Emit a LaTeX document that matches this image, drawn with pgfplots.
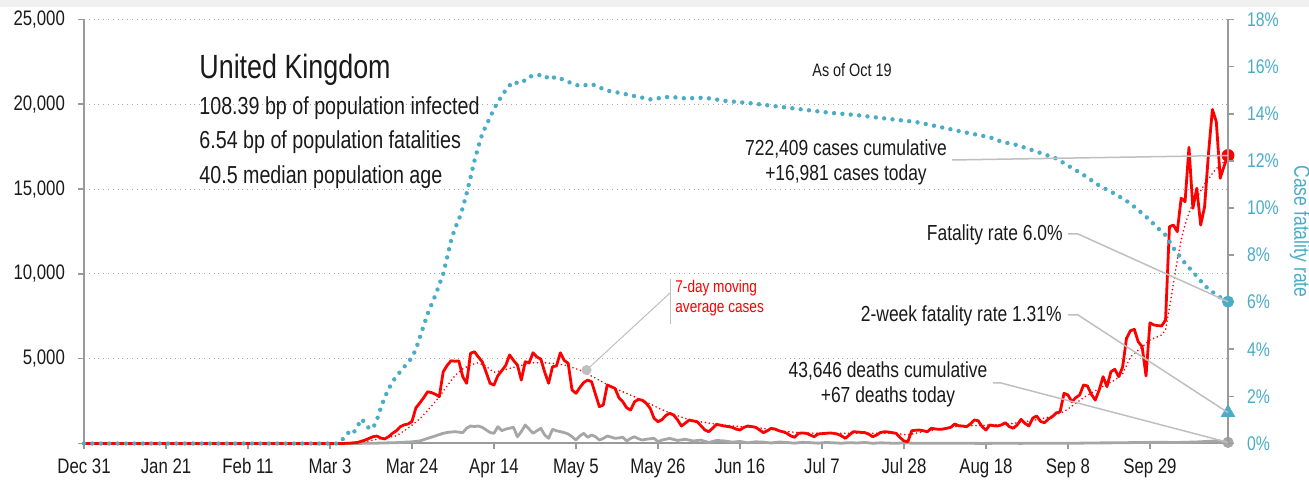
\documentclass[border=0pt]{standalone}
\usepackage{pgfplots}
\pgfplotsset{compat=1.18}
\usepackage{fontspec}
\setmainfont{Liberation Sans}[FakeStretch=0.8]

\definecolor{cfrblue}{HTML}{4BACC6}
\definecolor{casered}{HTML}{FF0000}
\definecolor{deathgray}{HTML}{A6A6A6}
\definecolor{axisgray}{HTML}{9A9A9A}
\definecolor{leadgray}{HTML}{BFBFBF}
\definecolor{txt}{HTML}{1A1A1A}

% both axes share the same box: 1 px of the reference = 0.5pt
\pgfplotsset{ukbase/.style={
    width=572pt, height=212pt, scale only axis,
    xmin=0, xmax=293,
    clip=false,
    axis line style={-, axisgray, line width=1pt},
    tick style={axisgray, line width=0.8pt},
    tick align=outside,
    major tick length=3pt,
}}
\newcommand\ylab[1]{\mbox{\fontsize{10.5pt}{12pt}\selectfont #1}}

\begin{document}
\begin{tikzpicture}
\path[use as bounding box] (-42pt,-18.25pt) rectangle (612.5pt,221.75pt);
\fill[black!6] (-42pt,221.75pt) rectangle (612.5pt,218.25pt);

% ---- left axis: daily cases and deaths
\begin{axis}[ukbase,
    ymin=0, ymax=25000,
    scaled y ticks=false,
    axis x line*=bottom, axis y line*=left,
    xtick={0,21,...,273},
    xticklabels={Dec 31,Jan 21,Feb 11,Mar 3,Mar 24,Apr 14,May 5,May 26,Jun 16,Jul 7,Jul 28,Aug 18,Sep 8,Sep 29},
    ytick={0,5000,...,25000},
    yticklabels={,\ylab{5,000},\ylab{10,000},\ylab{15,000},\ylab{20,000},\ylab{25,000}},
    ymajorgrids,
    grid style={dotted, black!35, line width=0.5pt},
    ticklabel style={font=\fontsize{10.5pt}{12pt}\selectfont, text=txt},
    yticklabel style={xshift=-3pt},
    xticklabel style={yshift=-1pt},
]
% daily deaths
\addplot[deathgray, line width=1.4pt, line join=round] coordinates {
(0,0) (63,0) (70,5) (75,20) (80,50) (84,100) (86,150) (88,300) (90,450) (92,600)
(93,650) (95,700) (97,640) (98,900) (99,1030) (100,1000) (101,1030) (102,955) (103,800)
(104,650) (105,600) (106,990) (107,755) (108,850) (109,900) (110,955) (111,400) (112,700)
(113,1090) (114,850) (115,600) (116,750) (117,895) (118,500) (119,305) (120,835) (121,750)
(122,700) (123,640) (124,560) (125,400) (126,205) (127,450) (128,600) (129,365) (130,500)
(131,400) (132,205) (133,300) (134,440) (135,380) (136,305) (137,330) (138,365) (139,150)
(140,300) (141,400) (142,280) (143,205) (144,250) (145,280) (146,305) (147,105) (148,200)
(150,300) (152,180) (154,250) (156,150) (158,200) (160,60) (162,180) (164,150) (166,80)
(168,120) (170,40) (172,100) (174,80) (176,30) (178,90) (180,60) (182,20) (184,70)
(186,50) (188,20) (190,60) (192,40) (194,15) (196,50) (198,30) (200,60) (202,10)
(204,40) (206,25) (208,10) (210,40) (212,20) (216,15) (220,10) (225,15) (230,5)
(235,12) (240,8) (245,15) (250,10) (255,20) (260,35) (265,40) (270,60) (275,70)
(280,60) (285,90) (288,130) (290,150) (292,100) (293,67)
};
% daily cases
\addplot[casered, line width=1.4pt, line join=round] coordinates {
(0,0) (63,0) (66,0) (68,20) (70,60) (72,200) (74,400) (75,440) (76,320) (77,270)
(78,400) (79,600) (80,750) (81,990) (82,1100) (83,1150) (84,1300) (85,2100) (86,2390)
(87,2700) (88,3050) (89,3000) (90,2900) (91,2760) (92,4230) (93,4600) (94,4880) (95,4850)
(96,4870) (97,3940) (98,3550) (99,5320) (100,5410) (101,5100) (102,4820) (103,4200)
(104,3550) (105,3450) (106,4000) (107,4300) (108,4600) (109,5220) (110,4900) (111,4630)
(112,3740) (113,4820) (114,4760) (115,5350) (116,5100) (117,4980) (118,4200) (119,3550)
(120,4530) (121,4570) (122,5350) (123,4900) (124,4730) (125,3150) (126,2960) (127,3300)
(128,3600) (129,3740) (130,3640) (131,2900) (132,2170) (133,2270) (134,3450) (135,3350)
(136,3250) (137,2700) (138,2460) (139,2100) (140,1975) (141,2460) (142,2600) (143,2550)
(144,2370) (145,2075) (146,1490) (147,1285) (148,1400) (149,1650) (150,1780) (151,1680)
(152,1400) (153,1030) (154,1200) (155,1385) (156,1330) (157,1285) (158,1050) (159,800)
(160,695) (161,900) (162,1130) (163,1080) (164,1030) (165,1000) (166,950) (167,850)
(168,795) (169,950) (170,1030) (171,1000) (172,955) (173,800) (174,640) (175,750)
(176,895) (177,850) (178,750) (179,695) (180,600) (181,450) (182,365) (183,600)
(184,620) (185,600) (186,500) (187,400) (188,560) (189,580) (190,600) (191,620)
(192,600) (193,550) (194,450) (195,305) (196,500) (197,695) (198,680) (199,660)
(200,640) (201,550) (202,400) (203,500) (204,650) (205,695) (206,680) (207,640)
(208,600) (209,350) (210,150) (211,105) (212,755) (213,780) (214,795) (215,750)
(216,695) (217,895) (218,860) (219,835) (220,850) (221,900) (222,955) (223,1150)
(224,1050) (225,1030) (226,990) (227,1150) (228,1385) (229,1345) (230,1000) (231,795)
(232,1090) (233,1050) (234,1030) (235,1100) (236,1225) (237,990) (238,900) (239,1090)
(240,1425) (241,1190) (242,1030) (243,1500) (244,1620) (245,1300) (246,1225) (247,1450)
(248,1580) (249,1800) (250,1875) (251,2960) (252,2860) (253,2460) (254,2700) (255,2860)
(256,3450) (257,3390) (258,2900) (259,2560) (260,3150) (261,3940) (262,3350) (263,4230)
(264,4375) (265,3940) (266,4500) (267,6200) (268,6650) (269,6730) (270,6000) (271,5710)
(272,3980) (273,7120) (274,6990) (275,6950) (276,6930) (277,7280) (278,12780) (279,12880)
(280,12490) (281,14460) (282,14260) (283,17460) (284,13870) (285,15050) (286,12880)
(287,13960) (288,17110) (289,19700) (290,18970) (291,15640) (292,16360) (293,16981)
};
% 7-day moving average of cases
\addplot[casered, line width=0.9pt, line cap=round, dash pattern=on 0pt off 2pt] coordinates {
(0,0) (63,0) (66,20) (70,60) (73,150) (76,300) (80,450) (83,900) (86,1450) (89,2200)
(91,2760) (93,3400) (95,4000) (97,4400) (99,4630) (101,4760) (103,4550) (105,4200)
(107,4300) (109,4430) (112,4600) (115,4760) (118,4760) (121,4700) (123,4630) (127,4330)
(131,3850) (135,3350) (140,2850) (144,2460) (147,2100) (150,1800) (155,1400) (160,1200)
(164,1080) (168,1000) (172,950) (176,820) (180,700) (185,620) (189,600) (197,600)
(206,600) (209,560) (211,500) (213,600) (215,700) (219,850) (223,990) (228,1060)
(232,1090) (236,1130) (240,1250) (244,1400) (247,1550) (251,1875) (256,2700) (260,3250)
(264,3740) (266,4100) (268,5100) (270,5500) (273,6100) (276,6400) (277,6700) (278,8000)
(279,9400) (280,10800) (281,12000) (282,12900) (283,13600) (284,14160) (285,14500)
(286,14900) (287,15300) (288,15600) (289,15930) (290,16200) (291,16450) (292,16600) (293,16800)
};
% end-point and annotation markers
\addplot[only marks, mark=*, mark size=2.3pt, leadgray] coordinates {(128.7,4330)};
\addplot[only marks, mark=*, mark size=2.6pt, deathgray] coordinates {(293,67)};
\addplot[only marks, mark=*, mark size=3pt, casered] coordinates {(293,16981)};
\coordinate (pc) at (axis cs:293,16981);
\coordinate (pd) at (axis cs:293,67);
\coordinate (pa) at (axis cs:128.7,4330);
\end{axis}

% ---- right axis: case fatality rate
\begin{axis}[ukbase,
    ymin=0, ymax=18,
    axis x line=none, axis y line*=right,
    ytick={0,2,...,18},
    yticklabels={0\%,2\%,4\%,6\%,8\%,10\%,12\%,14\%,16\%,18\%},
    yticklabel style={font=\fontsize{9.9pt}{12pt}\selectfont, text=cfrblue, xshift=3pt},
    ylabel={Case fatality rate},
    every axis y label/.style={at={(rel axis cs:1.063,0.5)}, anchor=center, rotate=-90,
        font=\fontsize{11pt}{13pt}\selectfont, text=cfrblue},
]
\addplot[cfrblue, line width=2.2pt, line cap=round, dash pattern=on 0pt off 4.2pt] coordinates {
(0,0) (65,0) (67,0.29) (68,0.53) (69,0.45) (70,0.71) (71,1.04) (72,0.88) (73,0.64)
(74,0.64) (75,1.0) (76,1.5) (77,1.95) (78,2.3) (79,2.62) (80,2.85) (81,3.05) (82,3.25)
(83,3.45) (84,3.65) (85,4.0) (86,4.5) (87,5.0) (88,5.5) (89,5.9) (90,6.3) (91,6.75)
(92,7.2) (93,7.9) (94,8.6) (95,9.13) (96,9.5) (97,10.0) (98,10.62) (99,11.3) (100,12.0)
(101,12.6) (102,13.15) (103,13.5) (104,13.85) (105,14.2) (106,14.5) (107,14.75)
(108,15.0) (109,15.2) (110,15.36) (111,15.3) (112,15.3) (114,15.57) (116,15.64)
(118,15.64) (119,15.46) (121,15.57) (124,15.35) (127,15.17) (130,15.26) (134,14.98)
(137,14.89) (141,14.75) (145,14.61) (150,14.72) (154,14.65) (159,14.68) (164,14.55)
(171,14.44) (178,14.3) (185,14.16) (191,14.04) (198,13.94) (205,13.8) (213,13.65)
(218,13.48) (225,13.23) (232,13.0) (235,12.81) (239,12.67) (244,12.39) (249,12.1)
(252,11.8) (256,11.4) (260,10.95) (264,10.6) (267,10.3) (269,10.05) (272,9.63)
(276,8.99) (277,8.85) (279,8.3) (282,7.65) (285,7.1) (287,6.7) (290,6.3) (293,6.02)
};
\addplot[only marks, mark=*, mark size=2.8pt, cfrblue] coordinates {(293,6.02)};
\addplot[only marks, mark=triangle*, mark size=3.8pt, cfrblue] coordinates {(293,1.31)};
\coordinate (pf) at (axis cs:293,6.02);
\coordinate (pt) at (axis cs:293,1.31);
\end{axis}

% ---- annotations, placed in reference pixels
\begin{scope}[x=0.5pt, y=-0.5pt, shift={(-42pt,221.75pt)}]
\draw[leadgray, line width=0.75pt] (952,160) -- (pc);
\draw[leadgray, line width=0.75pt] (1068,234) -- (1078,234) -- (pf);
\draw[leadgray, line width=0.75pt] (1068,315) -- (1078,315) -- (pt);
\draw[leadgray, line width=0.75pt] (993,383) -- (1001,383) -- (pd);
\draw[leadgray, line width=0.5pt] (670,279) -- (670,324);
\draw[leadgray, line width=0.5pt] (670,293) -- (pa);

\node[anchor=base west, inner sep=0, text=txt, font=\fontsize{16.8pt}{19pt}\selectfont] at (199,78.3) {United Kingdom};
\node[anchor=base west, inner sep=0, text=txt, font=\fontsize{12.3pt}{14pt}\selectfont] at (199,115) {108.39 bp of population infected};
\node[anchor=base west, inner sep=0, text=txt, font=\fontsize{12.3pt}{14pt}\selectfont] at (199,149) {6.54 bp of population fatalities};
\node[anchor=base west, inner sep=0, text=txt, font=\fontsize{12.3pt}{14pt}\selectfont] at (199,184) {40.5 median population age};
\node[anchor=base, inner sep=0, text=txt, font=\fontsize{9pt}{11pt}\selectfont] at (852,77) {As of Oct 19};

\node[anchor=base, inner sep=0, text=txt, font=\fontsize{10.9pt}{13pt}\selectfont] at (846,156) {722,409 cases cumulative};
\node[anchor=base, inner sep=0, text=txt, font=\fontsize{10.9pt}{13pt}\selectfont] at (846,181) {+16,981 cases today};
\node[anchor=base east, inner sep=0, text=txt, font=\fontsize{10.9pt}{13pt}\selectfont] at (1063,241) {Fatality rate 6.0\%};
\node[anchor=base east, inner sep=0, text=txt, font=\fontsize{10.9pt}{13pt}\selectfont] at (1062,321.7) {2-week fatality rate 1.31\%};
\node[anchor=base, inner sep=0, text=txt, font=\fontsize{10.9pt}{13pt}\selectfont] at (888,377.7) {43,646 deaths cumulative};
\node[anchor=base, inner sep=0, text=txt, font=\fontsize{10.9pt}{13pt}\selectfont] at (888,403) {+67 deaths today};

\node[anchor=base west, inner sep=0, text=casered, font=\fontsize{8.5pt}{10pt}\selectfont] at (675,293) {7-day moving};
\node[anchor=base west, inner sep=0, text=casered, font=\fontsize{8.5pt}{10pt}\selectfont] at (675,312.7) {average cases};
\end{scope}
\end{tikzpicture}
\end{document}
